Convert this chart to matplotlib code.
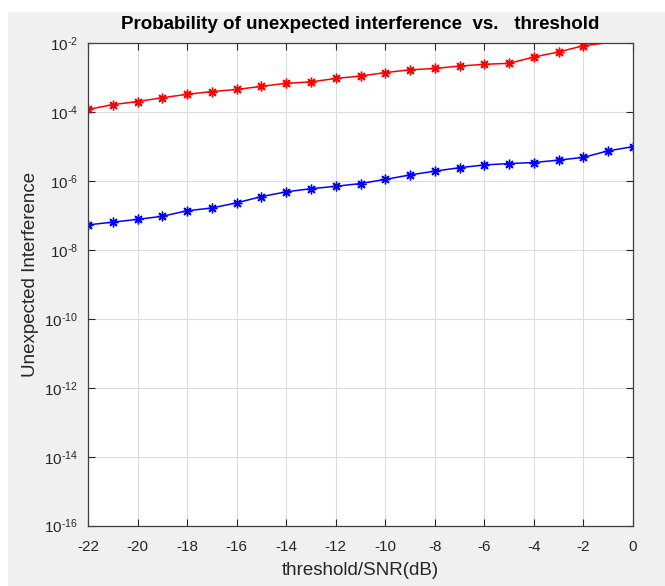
import numpy as np
import matplotlib
matplotlib.use("Agg")
import matplotlib.pyplot as plt
from matplotlib.patches import Rectangle

plt.rcParams['font.family'] = ['Liberation Sans', 'DejaVu Sans']
plt.rcParams['mathtext.fontset'] = 'custom'
plt.rcParams['mathtext.rm'] = 'Liberation Sans'
plt.rcParams['mathtext.it'] = 'Liberation Sans:italic'
plt.rcParams['mathtext.bf'] = 'Liberation Sans:bold'
plt.rcParams['axes.unicode_minus'] = False

# ---- data ----
threshold_db = [-22, -21, -20, -19, -18, -17, -16, -15, -14, -13, -12,
                -11, -10, -9, -8, -7, -6, -5, -4, -3, -2, -1, 0]
red_log = [-3.92, -3.78, -3.69, -3.58, -3.48, -3.40, -3.34, -3.25, -3.16, -3.12, -3.02,
           -2.95, -2.85, -2.77, -2.73, -2.66, -2.61, -2.58, -2.40, -2.25, -2.07, -1.98, -1.85]
blue_log = [-7.27, -7.19, -7.11, -7.02, -6.86, -6.78, -6.63, -6.45, -6.31, -6.22, -6.15,
            -6.07, -5.95, -5.82, -5.71, -5.61, -5.53, -5.49, -5.46, -5.39, -5.31, -5.12, -5.00]
red_vals = [10 ** v for v in red_log]
blue_vals = [10 ** v for v in blue_log]
x_ticks = [-22, -20, -18, -16, -14, -12, -10, -8, -6, -4, -2, 0]
y_exponents = [-16, -14, -12, -10, -8, -6, -4, -2]
y_ticks = [10.0 ** e for e in y_exponents]
y_ticklabels = ['$\\mathregular{10^{\u2010%d}}$' % abs(e) for e in y_exponents]
ylim = (1e-16, 1e-2)

W, H = 665, 586
fig = plt.figure(figsize=(W / 100, H / 100), dpi=100, facecolor='white')
fig.patches.append(Rectangle((8 / W, 0), 1 - 8 / W, 1 - 12 / H, transform=fig.transFigure,
                             facecolor='#f0f0f0', edgecolor='none', zorder=-10))

ax = fig.add_axes([88 / W, (H - 525.7) / H, 545 / W, 482.4 / H])
ax.set_facecolor('white')

marker = (8, 2, 0)
for vals, col in [(red_vals, 'red'), (blue_vals, 'blue')]:
    inside = [i for i, v in enumerate(vals) if ylim[0] <= v <= ylim[1]]
    ax.plot(threshold_db, vals, '-', color=col, lw=1.1, marker=marker, markersize=7,
            markeredgewidth=1.0, markevery=inside)

ax.set_yscale('log')
ax.set_xlim(-22, 0)
ax.set_ylim(*ylim)
ax.set_xticks(x_ticks)
ax.set_xticklabels([str(t) for t in x_ticks])
ax.set_yticks(y_ticks)
ax.set_yticklabels(y_ticklabels)
ax.yaxis.set_minor_locator(matplotlib.ticker.NullLocator())
ax.grid(True, color='#dcdcdc', lw=0.8)
ax.set_axisbelow(True)

axis_col = '#262626'
for s in ax.spines.values():
    s.set_color('#404040')
    s.set_linewidth(0.9)
ax.tick_params(which='both', direction='in', top=True, right=True, length=5,
               width=0.8, color='#262626', labelsize=11, labelcolor=axis_col)
ax.tick_params(axis='x', pad=10)
ax.tick_params(axis='y', pad=7)

ax.set_title('Probability of unexpected interference  vs.   threshold', fontsize=13.5,
             fontweight='bold', color='black', pad=10)
ax.set_xlabel('threshold/SNR(dB)', fontsize=13.5, color=axis_col, labelpad=6)
ax.set_ylabel('Unexpected Interference', fontsize=13.5, color=axis_col, labelpad=4)
ax.yaxis.label.set_y(0.52)

fig.savefig('out.png', dpi=100, facecolor=fig.get_facecolor())
